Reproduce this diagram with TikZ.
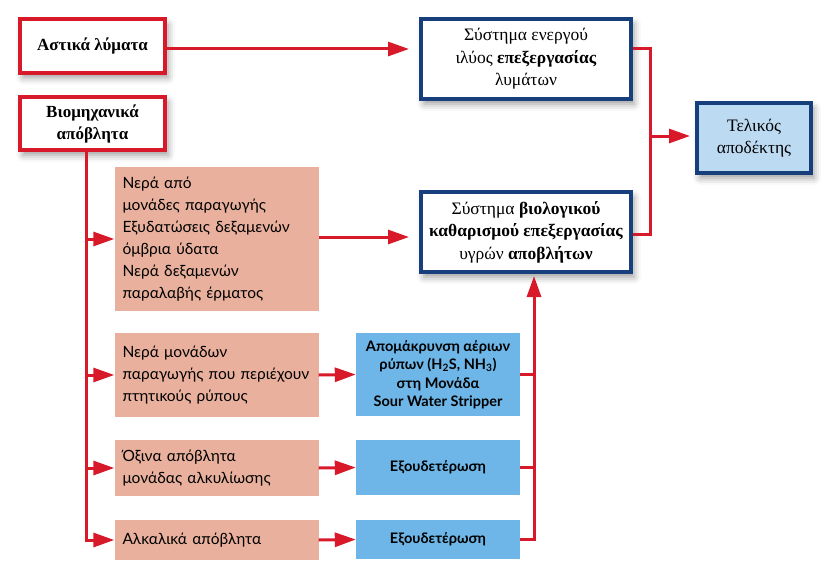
\documentclass[tikz,border=0pt]{standalone}
\usepackage{fontspec}
\setmainfont{Liberation Serif}
\newfontfamily\flowfont{Lato}
\usetikzlibrary{arrows.meta,shadows.blur}
\definecolor{lineRed}{HTML}{D7192A}
\definecolor{boxBlue}{HTML}{173F7C}
\definecolor{salmon}{HTML}{E9B19D}
\definecolor{treatBlue}{HTML}{6DB6E7}
\definecolor{sinkBlue}{HTML}{BDDAF3}
\begin{document}
\begin{tikzpicture}[x=1pt,y=-1pt,
	softshadow/.style={blur shadow={shadow xshift=3pt,shadow yshift=-5pt,shadow blur radius=7pt,shadow opacity=40}},
	sourcebox/.style={draw=lineRed,line width=4pt,fill=white,align=center,softshadow,
		font=\bfseries\fontsize{17}{22}\selectfont,minimum width=145pt,minimum height=53pt},
	plantbox/.style={draw=boxBlue,line width=4pt,fill=white,align=center,softshadow,
		font=\fontsize{17.5}{22.5}\selectfont,minimum width=210pt,minimum height=80pt},
	streambox/.style={fill=salmon,align=left,inner xsep=8pt,text width=188pt,
		font=\flowfont\fontsize{15.5}{22}\selectfont},
	treatbox/.style={fill=treatBlue,align=center,minimum width=164pt,
		font=\flowfont\bfseries\fontsize{14.5}{18.5}\selectfont},
	link/.style={draw=lineRed,line width=3pt,-{Triangle[length=21pt,width=14pt]}},
	plain/.style={draw=lineRed,line width=3pt}]
	\useasboundingbox (0,0) rectangle (832,586);
	\node [sourcebox] (urban) at (92.5,46) {Αστικά λύματα};
	\node [sourcebox] (industry) at (92.5,123.5) {Βιομηχανικά\\απόβλητα};
	\node [plantbox] (sludge) at (526,59) {Σύστημα ενεργού\\ιλύος \textbf{επεξεργασίας}\\λυμάτων};
	\node [plantbox] (bio) at (526,232) {Σύστημα \textbf{βιολογικού}\\\textbf{καθαρισμού επεξεργασίας}\\υγρών \textbf{αποβλήτων}};
	\node [draw=boxBlue,line width=4pt,fill=sinkBlue,align=center,softshadow,font=\fontsize{17.5}{22.5}\selectfont,
		minimum width=114pt,minimum height=70pt] (sink) at (754,138) {Τελικός\\αποδέκτης};
	\node [streambox,minimum height=144pt] (plant) at (216.5,239) {Νερά από\\μονάδες παραγωγής\\Εξυδατώσεις δεξαμενών\\όμβρια ύδατα\\Νερά δεξαμενών\\παραλαβής έρματος};
	\node [streambox,minimum height=84pt] (sour) at (216.5,375) {Νερά μονάδων\\παραγωγής που περιέχουν\\πτητικούς ρύπους};
	\node [streambox,minimum height=56pt] (acid) at (216.5,468) {Όξινα απόβλητα\\μονάδας αλκυλίωσης};
	\node [streambox,minimum height=40pt] (alkali) at (216.5,540) {Αλκαλικά απόβλητα};
	\node [treatbox,minimum height=83pt] (strip) at (438,374.5) {Απομάκρυνση αέριων\\ρύπων (H\textsubscript{2}S, NH\textsubscript{3})\\στη Μονάδα\\Sour Water Stripper};
	\node [treatbox,minimum height=55pt] (neutA) at (438,467.5) {Εξουδετέρωση};
	\node [treatbox,minimum height=39pt] (neutB) at (438,539.5) {Εξουδετέρωση};
	\coordinate (trunkL) at (86,0);
	\coordinate (trunkR) at (534,0);
	\coordinate (merge) at (650,136);
	\draw [link,shorten >=10pt] ([yshift=-3pt]urban.east) -- ([yshift=-3pt]urban.east -| sludge.west);
	\draw [link] (industry.south -| trunkL) |- (alkali.west);
	\draw [link] (trunkL |- plant.west) -- (plant.west);
	\draw [link] (trunkL |- sour.west) -- (sour.west);
	\draw [link] (trunkL |- acid.west) -- (acid.west);
	\draw [link,shorten >=10pt] ([yshift=2pt]plant.east) -- ([yshift=2pt]plant.east -| bio.west);
	\draw [link] (sour.east) -- (strip.west);
	\draw [link] (acid.east) -- (neutA.west);
	\draw [link] (alkali.east) -- (neutB.west);
	\draw [plain] (strip.east) -- (strip.east -| trunkR);
	\draw [plain] (neutA.east) -- (neutA.east -| trunkR);
	\draw [link,shorten >=2pt] (neutB.east) -| (trunkR |- bio.south);
	\draw [plain] ([yshift=10pt]sludge.east) -| (merge) |- ([yshift=-2pt]bio.east);
	\draw [link,shorten >=5pt] (merge) -- (merge -| sink.west);
\end{tikzpicture}
\end{document}
